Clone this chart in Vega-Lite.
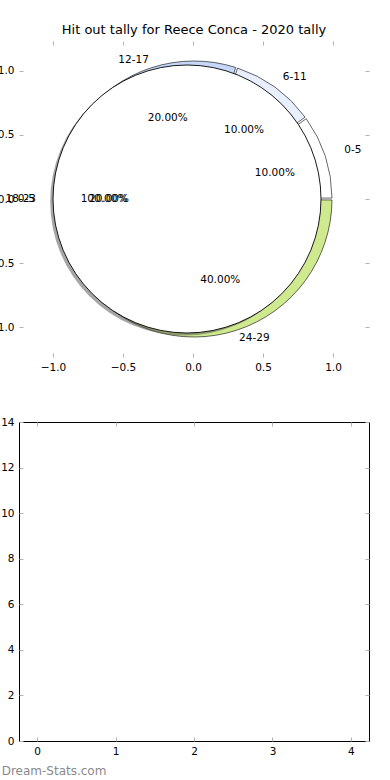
{
  "$schema": "https://vega.github.io/schema/vega-lite/v6.json",
  "background": "white",
  "padding": {"left": -12, "top": 23, "right": 6, "bottom": 2},
  "config": {
    "font": "DejaVu Sans",
    "view": {"stroke": null},
    "axis": {
      "labelFont": "DejaVu Sans",
      "labelFontSize": 10.5,
      "labelColor": "black",
      "tickColor": "#b4b4b4",
      "tickSize": -4,
      "tickWidth": 1,
      "labelPadding": 9,
      "domain": false,
      "grid": false,
      "title": null
    },
    "title": {"font": "DejaVu Sans", "fontWeight": "normal", "color": "black"}
  },
  "datasets": {
    "wedges": [
      {"bucket": "0-5", "share": 0.1, "idx": 0},
      {"bucket": "6-11", "share": 0.1, "idx": 1},
      {"bucket": "12-17", "share": 0.2, "idx": 2},
      {"bucket": "18-23", "share": 0.2, "idx": 3},
      {"bucket": "24-29", "share": 0.4, "idx": 4}
    ],
    "cover": [
      {"bucket": "0-5", "share": 1, "idx": 0}
    ],
    "empty": []
  },
  "bounds": "full",
  "spacing": 43,
  "vconcat": [
    {
      "width": 350,
      "height": 316,
      "title": {"text": "Hit out tally for Reece Conca - 2020 tally", "fontSize": 13, "offset": 4},
      "layer": [
        {
          "data": {"name": "wedges"},
          "mark": {"type": "arc", "outerRadius": 138, "stroke": "black", "strokeWidth": 0.6, "padAngle": 0.014},
          "encoding": {
            "theta": {"field": "share", "type": "quantitative", "stack": true, "scale": {"domain": [0, 1], "range": [1.5708, -4.7124]}},
            "order": {"field": "idx", "type": "quantitative"},
            "color": {"field": "bucket", "type": "nominal", "legend": null,
              "scale": {"domain": ["0-5", "6-11", "12-17", "18-23", "24-29"], "range": ["#ffffff", "#e8efff", "#c6d7f7", "#a9c2ee", "#cfe98f"]}}
          }
        },
        {
          "data": {"name": "cover"},
          "mark": {"type": "arc", "outerRadius": 134, "fill": "#4d4d4d", "opacity": 0.5},
          "encoding": {
            "theta": {"field": "share", "type": "quantitative", "stack": true, "scale": {"domain": [0, 1], "range": [1.5708, -4.7124]}},
            "x": {"datum": -0.063, "type": "quantitative", "scale": {"domain": [-1.243, 1.257], "nice": false, "zero": false},
              "axis": {"orient": "bottom", "values": [-1, -0.5, 0, 0.5, 1], "format": ".1f"}},
            "y": {"datum": -0.02, "type": "quantitative", "scale": {"domain": [-1.234, 1.234], "nice": false, "zero": false},
              "axis": {"orient": "left", "values": [-1, -0.5, 0, 0.5, 1], "format": ".1f"}}
          }
        },
        {
          "data": {"name": "cover"},
          "mark": {"type": "arc", "outerRadius": 134, "fill": "white", "stroke": "black", "strokeWidth": 0.9},
          "encoding": {
            "theta": {"field": "share", "type": "quantitative", "stack": true, "scale": {"domain": [0, 1], "range": [1.5708, -4.7124]}},
            "x": {"datum": -0.043, "type": "quantitative", "scale": {"domain": [-1.243, 1.257], "nice": false, "zero": false},
              "axis": {"orient": "top", "values": [-1, -0.5, 0, 0.5, 1], "labels": false}},
            "y": {"datum": 0, "type": "quantitative", "scale": {"domain": [-1.234, 1.234], "nice": false, "zero": false},
              "axis": {"orient": "right", "values": [-1, -0.5, 0, 0.5, 1], "labels": false}}
          }
        },
        {
          "data": {"name": "wedges"},
          "mark": {"type": "text", "radius": 158, "align": "left", "baseline": "middle", "fontSize": 10.5, "color": "black"},
          "encoding": {
            "theta": {"field": "share", "type": "quantitative", "stack": true, "scale": {"domain": [0, 1], "range": [1.5708, -4.7124]}},
            "order": {"field": "idx", "type": "quantitative"},
            "text": {"condition": {"test": "datum.bucket !== '0-5'", "value": ""}, "field": "bucket", "type": "nominal"}
          }
        },
        {
          "data": {"name": "wedges"},
          "mark": {"type": "text", "radius": 151, "align": "left", "baseline": "middle", "fontSize": 10.5, "color": "black"},
          "encoding": {
            "theta": {"field": "share", "type": "quantitative", "stack": true, "scale": {"domain": [0, 1], "range": [1.5708, -4.7124]}},
            "order": {"field": "idx", "type": "quantitative"},
            "text": {"condition": {"test": "datum.bucket !== '6-11'", "value": ""}, "field": "bucket", "type": "nominal"}
          }
        },
        {
          "data": {"name": "wedges"},
          "mark": {"type": "text", "radius": 146, "align": "left", "baseline": "middle", "fontSize": 10.5, "color": "black"},
          "encoding": {
            "theta": {"field": "share", "type": "quantitative", "stack": true, "scale": {"domain": [0, 1], "range": [1.5708, -4.7124]}},
            "order": {"field": "idx", "type": "quantitative"},
            "text": {"condition": {"test": "datum.bucket !== '24-29'", "value": ""}, "field": "bucket", "type": "nominal"}
          }
        },
        {
          "data": {"name": "wedges"},
          "mark": {"type": "text", "radius": 146, "align": "right", "baseline": "middle", "fontSize": 10.5, "color": "black"},
          "encoding": {
            "theta": {"field": "share", "type": "quantitative", "stack": true, "scale": {"domain": [0, 1], "range": [1.5708, -4.7124]}},
            "order": {"field": "idx", "type": "quantitative"},
            "text": {"condition": {"test": "datum.bucket !== '12-17'", "value": ""}, "field": "bucket", "type": "nominal"}
          }
        },
        {
          "data": {"name": "wedges"},
          "mark": {"type": "text", "radius": 158, "align": "right", "baseline": "middle", "fontSize": 10.5, "color": "black"},
          "encoding": {
            "theta": {"field": "share", "type": "quantitative", "stack": true, "scale": {"domain": [0, 1], "range": [1.5708, -4.7124]}},
            "order": {"field": "idx", "type": "quantitative"},
            "text": {"condition": {"test": "datum.bucket !== '18-23'", "value": ""}, "field": "bucket", "type": "nominal"}
          }
        },
        {
          "data": {"name": "wedges"},
          "mark": {"type": "text", "radius": 85, "align": "center", "baseline": "middle", "fontSize": 10.5, "color": "black"},
          "encoding": {
            "theta": {"field": "share", "type": "quantitative", "stack": true, "scale": {"domain": [0, 1], "range": [1.5708, -4.7124]}},
            "order": {"field": "idx", "type": "quantitative"},
            "text": {"field": "share", "type": "quantitative", "format": ".2%"}
          }
        },
        {
          "data": {"name": "cover"},
          "mark": {"type": "text", "radius": 152, "align": "right", "baseline": "middle", "fontSize": 10.5, "color": "black"},
          "encoding": {
            "theta": {"field": "share", "type": "quantitative", "stack": true, "scale": {"domain": [0, 1], "range": [1.5708, -4.7124]}},
            "x": {"datum": -0.043, "type": "quantitative", "scale": {"domain": [-1.243, 1.257], "nice": false, "zero": false}, "axis": null},
            "y": {"datum": 0, "type": "quantitative", "scale": {"domain": [-1.234, 1.234], "nice": false, "zero": false}, "axis": null},
            "text": {"field": "bucket", "type": "nominal"}
          }
        },
        {
          "data": {"name": "cover"},
          "mark": {"type": "text", "radius": 83, "align": "center", "baseline": "middle", "fontSize": 10.5, "color": "black"},
          "encoding": {
            "theta": {"field": "share", "type": "quantitative", "stack": true, "scale": {"domain": [0, 1], "range": [1.5708, -4.7124]}},
            "x": {"datum": -0.043, "type": "quantitative", "scale": {"domain": [-1.243, 1.257], "nice": false, "zero": false}, "axis": null},
            "y": {"datum": 0, "type": "quantitative", "scale": {"domain": [-1.234, 1.234], "nice": false, "zero": false}, "axis": null},
            "text": {"field": "share", "type": "quantitative", "format": ".2%"}
          }
        }
      ],
      "resolve": {"axis": {"x": "independent", "y": "independent"}}
    },
    {
      "width": 350,
      "height": 319,
      "data": {"name": "empty"},
      "view": {"stroke": "black", "strokeWidth": 1},
      "title": {"text": "Dream-Stats.com", "orient": "bottom", "anchor": "start", "dx": 1, "fontSize": 12, "color": "#8a8a8a", "offset": 9},
      "layer": [
        {
          "mark": "bar",
          "encoding": {
            "x": {"field": "x", "type": "quantitative", "scale": {"domain": [-0.23, 4.23], "nice": false, "zero": false, "padding": 0},
              "axis": {"orient": "bottom", "values": [0, 1, 2, 3, 4], "format": "d"}},
            "y": {"field": "y", "type": "quantitative", "scale": {"domain": [0, 14], "nice": false, "padding": 0},
              "axis": {"orient": "left", "values": [0, 2, 4, 6, 8, 10, 12, 14], "format": "d"}}
          }
        },
        {
          "mark": "bar",
          "encoding": {
            "x": {"field": "x", "type": "quantitative", "scale": {"domain": [-0.23, 4.23], "nice": false, "zero": false, "padding": 0},
              "axis": {"orient": "top", "values": [0, 1, 2, 3, 4], "labels": false}},
            "y": {"field": "y", "type": "quantitative", "scale": {"domain": [0, 14], "nice": false, "padding": 0},
              "axis": {"orient": "right", "values": [0, 2, 4, 6, 8, 10, 12, 14], "labels": false}}
          }
        }
      ],
      "resolve": {"axis": {"x": "independent", "y": "independent"}}
    }
  ]
}
